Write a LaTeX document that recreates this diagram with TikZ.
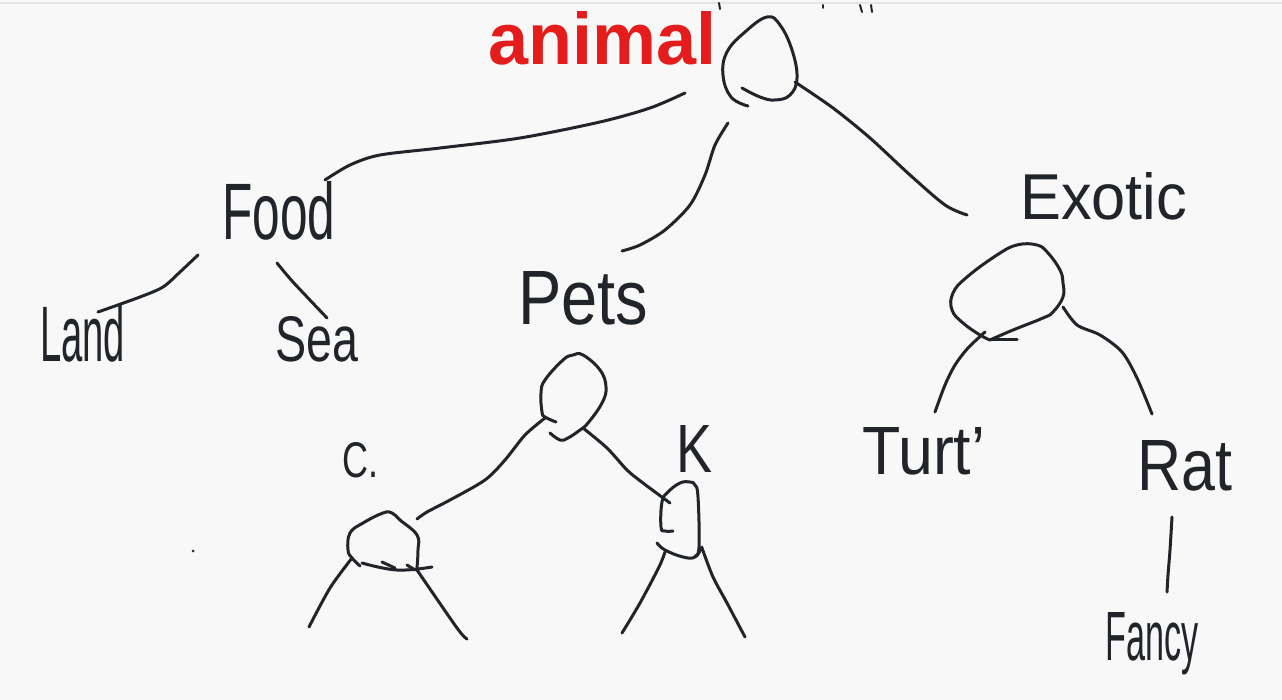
\documentclass[tikz,border=0pt]{standalone}
\usepackage{fontspec}
\setmainfont{Liberation Sans}
\usepackage{graphicx}
\definecolor{ink}{RGB}{33,36,40}
\definecolor{redink}{RGB}{228,28,28}
\definecolor{paper}{RGB}{248,248,248}
\newcommand{\hand}[3]{\resizebox{#1pt}{#2pt}{#3}}

\begin{document}
\begin{tikzpicture}[x=1pt,y=-1pt,
  pen/.style={line width=3pt,color=ink,line cap=round,line join=round},
  lbl/.style={inner sep=0pt,anchor=base west,text=ink}]

\fill[paper] (0,0) rectangle (1282,700);
\useasboundingbox (0,0) rectangle (1282,700);
\draw[line width=1.5pt,color=black!10] (0,3) -- (1282,3);

% words
\node[lbl,text=redink] (animal) at (488,65) {\hand{228}{53}{\bfseries animal}};
\node[lbl] (food)  at (222,240) {\hand{113}{58}{Food}};
\node[lbl] (land)  at (40,362)  {\hand{85}{57}{Land}};
\node[lbl] (sea)   at (275,362) {\hand{83}{45}{Sea}};
\node[lbl] (pets)  at (518,325) {\hand{130}{53}{Pets}};
\node[lbl] (exotic) at (1020,220) {\hand{167}{47}{Exotic}};
\node[lbl] (cat)   at (342,477) {\hand{36}{35}{C.}};
\node[lbl] (k)     at (676,472) {\hand{36}{47}{K}};
\node[lbl] (turt)  at (862,474) {\hand{123}{47}{Turt'}};
\node[lbl] (rat)   at (1137,490) {\hand{95}{50}{Rat}};
\node[lbl] (fancy) at (1105,660) {\hand{93}{48}{Fancy}};

% blobs
\draw[pen] plot[smooth,tension=0.7] coordinates {(748,106) (731,97) (723,75) (727,52) (745,32) (767,17) (780,25) (792,50) (797,78) (790,95) (775,100) (760,97) (742,88)};
\draw[pen] plot[smooth,tension=0.7] coordinates {(556,422) (545,417) (542,412) (541,393) (545,380) (563,360) (573,355) (583,355) (600,370) (606,387) (602,403) (588,423) (580,430) (568,438) (560,440) (550,433)};
\draw[pen] plot[smooth,tension=0.7] coordinates {(990,340) (980,335) (963,323) (952,310) (953,293) (967,277) (997,255) (1017,245) (1037,245) (1048,253) (1060,270) (1063,283) (1063,297) (1053,312) (1043,318) (1013,330) (990,340)};
\draw[pen] (990,340) -- (1017,340);
\draw[pen] plot[smooth,tension=0.7] coordinates {(360,566) (352,558) (348,550) (350,533) (363,523) (383,513) (392,513) (400,520) (417,535) (418,550) (417,568)};
\draw[pen] plot[smooth,tension=0.7] coordinates {(362,563) (397,570) (432,567)};
\draw[pen] (382,562) -- (395,568);
\draw[pen] (407,565) -- (415,570);
\draw[pen] plot[smooth,tension=0.7] coordinates {(673,531) (665,531) (661,527) (662,502) (668,492) (680,483) (690,482) (695,485) (698,497) (699,547) (695,556)};
\draw[pen] plot[smooth,tension=0.7] coordinates {(657,543) (665,550) (683,557) (695,557) (702,547)};

% connector ends
\coordinate (rootL) at (685,93);
\coordinate (foodR) at (325,180);
\coordinate (rootB) at (728,123);
\coordinate (petsT) at (622,251);
\coordinate (rootR) at (795,82);
\coordinate (exoT) at (967,215);
\coordinate (foodL) at (198,255);
\coordinate (landT) at (98,312);
\coordinate (foodB) at (277,263);
\coordinate (seaT) at (327,318);
\coordinate (petsL) at (545,418);
\coordinate (catT) at (417,519);
\coordinate (petsR) at (583,428);
\coordinate (kT) at (670,503);
\coordinate (catBL) at (352,558);
\coordinate (catEL) at (309,627);
\coordinate (catBR) at (417,570);
\coordinate (catER) at (467,639);
\coordinate (kBL) at (665,552);
\coordinate (kEL) at (622,633);
\coordinate (kBR) at (702,548);
\coordinate (kER) at (745,637);
\coordinate (exoBL) at (985,332);
\coordinate (turtT) at (935,412);
\coordinate (exoBR) at (1063,307);
\coordinate (ratT) at (1152,414);
\coordinate (ratB) at (1172,517);
\coordinate (fancyT) at (1167,592);

% connectors
\draw[pen] plot[smooth] coordinates {(rootL) (650,108) (600,122) (520,138) (440,148) (380,155) (350,165) (foodR)};
\draw[pen] plot[smooth] coordinates {(rootB) (715,145) (705,175) (690,205) (665,230) (640,245) (petsT)};
\draw[pen] plot[smooth] coordinates {(rootR) (833,108) (870,138) (910,175) (945,205) (exoT)};
\draw[pen] plot[smooth] coordinates {(foodL) (180,272) (163,287) (140,297) (landT)};
\draw[pen] plot[smooth] coordinates {(foodB) (293,282) (seaT)};
\draw[pen] plot[smooth] coordinates {(petsL) (525,435) (505,460) (485,480) (450,500) (427,512) (catT)};
\draw[pen] plot[smooth] coordinates {(petsR) (607,448) (627,470) (643,483) (kT)};
\draw[pen] plot[smooth] coordinates {(catBL) (330,588) (catEL)};
\draw[pen] plot[smooth] coordinates {(catBR) (457,628) (catER)};
\draw[pen] plot[smooth] coordinates {(kBL) (659,567) (640,603) (kEL)};
\draw[pen] plot[smooth] coordinates {(kBR) (713,577) (727,603) (kER)};
\draw[pen] plot[smooth] coordinates {(exoBL) (968,348) (955,365) (945,385) (turtT)};
\draw[pen] plot[smooth] coordinates {(exoBR) (1077,325) (1100,335) (1122,352) (1137,378) (ratT)};
\draw[pen] plot[smooth] coordinates {(ratB) (1170,550) (1168,575) (fancyT)};

% stray marks
\fill[ink] (193,551) circle (1.5);
\draw[pen,line width=2pt] (719,3) -- (720,9);
\draw[pen,line width=2pt] (823,5) -- (823,8);
\draw[pen,line width=2pt] (860,5) -- (862,12);
\draw[pen,line width=2pt] (871,5) -- (872,12);
\end{tikzpicture}
\end{document}
